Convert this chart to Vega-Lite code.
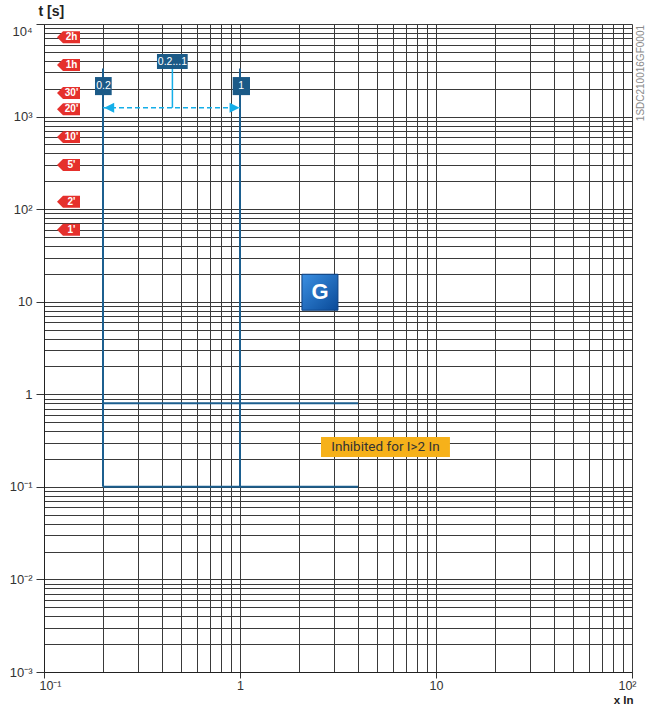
{
  "$schema": "https://vega.github.io/schema/vega-lite/v6.json",
  "width": 588,
  "height": 648,
  "autosize": {"type": "none"},
  "padding": {"left": 44, "top": 24, "right": 15, "bottom": 34},
  "background": "white",
  "config": {"view": {"stroke": null}, "font": "Liberation Sans"},
  "datasets": {
    "curve": [
      {"x": 0.2, "y": 3300, "x2": 0.2, "y2": 0.1},
      {"x": 1, "y": 3300, "x2": 1, "y2": 0.1},
      {"x": 0.2, "y": 0.1, "x2": 4, "y2": 0.1},
      {"x": 0.2, "y": 0.8, "x2": 4, "y2": 0.8}
    ],
    "connector": [{"x": 0.452, "y": 3500, "x2": 0.452, "y2": 1245}],
    "dashed": [{"x": 0.2, "y": 1245, "x2": 1, "y2": 1245}],
    "arrows": [
      {"x": 0.215, "y": 1245, "dir": "left"},
      {"x": 0.938, "y": 1245, "dir": "right"}
    ],
    "boxes": [
      {"x": 0.182, "x2": 0.2215, "y": 2673, "y2": 1705},
      {"x": 0.918, "x2": 1.125, "y": 2673, "y2": 1705},
      {"x": 0.377, "x2": 0.541, "y": 4742, "y2": 3266}
    ],
    "boxlabels": [
      {"x": 0.201, "y": 2136, "label": "0.2"},
      {"x": 1.015, "y": 2136, "label": "1"},
      {"x": 0.452, "y": 3933, "label": "0.2...1"}
    ],
    "gbox": [{"x": 2.07, "x2": 3.16, "y": 19.8, "y2": 8.09}],
    "glabel": [{"x": 2.56, "y": 12.7, "label": "G"}],
    "obox": [{"x": 2.59, "x2": 11.78, "y": 0.345, "y2": 0.21}],
    "olabel": [{"x": 5.52, "y": 0.269, "label": "Inhibited for I>2 In"}],
    "tags": [
      {"x": 0.1334, "y": 7200, "label": "2h"},
      {"x": 0.1334, "y": 3600, "label": "1h"},
      {"x": 0.1334, "y": 1800, "label": "30'"},
      {"x": 0.1334, "y": 1200, "label": "20'"},
      {"x": 0.1334, "y": 600, "label": "10'"},
      {"x": 0.1334, "y": 300, "label": "5'"},
      {"x": 0.1334, "y": 120, "label": "2'"},
      {"x": 0.1334, "y": 60, "label": "1'"}
    ],
    "code": [{"x": 100, "y": 2950, "label": "1SDC210016GF0001"}]
  },
  "encoding": {
    "x": {
      "field": "x",
      "type": "quantitative",
      "scale": {"type": "log", "domain": [0.1, 100], "nice": false},
      "axis": {
        "values": [0.1, 0.2, 0.3, 0.4, 0.5, 0.6, 0.7, 0.8, 0.9, 1, 2, 3, 4, 5, 6, 7, 8, 9, 10, 20, 30, 40, 50, 60, 70, 80, 90, 100],
        "title": "x In",
        "titleFontWeight": "bold",
        "titleFontSize": 11.5,
        "titleColor": "#222",
        "titleAlign": "right",
        "titleAnchor": null,
        "titleX": 589,
        "titleY": 31,
        "titleBaseline": "alphabetic",
        "labelExpr": "datum.value == 0.1 ? '10⁻¹' : datum.value == 1 ? '1' : datum.value == 10 ? '10' : datum.value == 100 ? '10²' : ''",
        "labelFontSize": 12.5,
        "labelColor": "#333",
        "labelOverlap": false,
        "labelFlush": false,
        "labelBound": false,
        "labelPadding": 1,
        "labelOffset": {"condition": [{"test": "datum.value == 0.1", "value": 6}, {"test": "datum.value == 100", "value": -5}], "value": 0},
        "tickSize": 6,
        "tickColor": "#333",
        "tickOpacity": {"condition": {"test": "abs(log(datum.value)/LN10 - round(log(datum.value)/LN10)) < 1e-9", "value": 1}, "value": 0},
        "grid": true,
        "gridColor": "#3a3a3a",
        "gridWidth": 1,
        "gridOpacity": 1,
        "domainColor": "#222",
        "domainWidth": 1
      }
    },
    "y": {
      "field": "y",
      "type": "quantitative",
      "scale": {"type": "log", "domain": [0.001, 10000], "nice": false},
      "axis": {
        "values": [0.001, 0.002, 0.003, 0.004, 0.005, 0.006, 0.007, 0.008, 0.009, 0.01, 0.02, 0.03, 0.04, 0.05, 0.06, 0.07, 0.08, 0.09, 0.1, 0.2, 0.3, 0.4, 0.5, 0.6, 0.7, 0.8, 0.9, 1, 2, 3, 4, 5, 6, 7, 8, 9, 10, 20, 30, 40, 50, 60, 70, 80, 90, 100, 200, 300, 400, 500, 600, 700, 800, 900, 1000, 2000, 3000, 4000, 5000, 6000, 7000, 8000, 9000, 10000],
        "title": "t [s]",
        "titleAngle": 0,
        "titleFontWeight": "bold",
        "titleFontSize": 14,
        "titleColor": "#222",
        "titleAlign": "left",
        "titleAnchor": null,
        "titleX": -6,
        "titleY": -9,
        "titleBaseline": "alphabetic",
        "labelExpr": "datum.value == 10000 ? '10⁴' : datum.value == 1000 ? '10³' : datum.value == 100 ? '10²' : datum.value == 10 ? '10' : datum.value == 1 ? '1' : datum.value == 0.1 ? '10⁻¹' : datum.value == 0.01 ? '10⁻²' : datum.value == 0.001 ? '10⁻³' : ''",
        "labelFontSize": 13,
        "labelColor": "#333",
        "labelOverlap": false,
        "labelFlush": false,
        "labelBound": false,
        "labelPadding": 4,
        "labelOffset": {"condition": {"test": "datum.value == 10000", "value": 7}, "value": 0},
        "tickSize": 8,
        "tickColor": "#333",
        "tickOpacity": {"condition": {"test": "abs(log(datum.value)/LN10 - round(log(datum.value)/LN10)) < 1e-9", "value": 1}, "value": 0},
        "grid": true,
        "gridColor": "#3a3a3a",
        "gridWidth": 1,
        "gridOpacity": 1,
        "domainColor": "#222",
        "domainWidth": 1
      }
    }
  },
  "layer": [
    {
      "data": {"name": "curve"},
      "mark": {"type": "rule", "color": "#1c5f8f", "strokeWidth": 2},
      "encoding": {"x2": {"field": "x2"}, "y2": {"field": "y2"}}
    },
    {
      "data": {"name": "connector"},
      "mark": {"type": "rule", "color": "#14aee8", "strokeWidth": 1.5},
      "encoding": {"x2": {"field": "x2"}, "y2": {"field": "y2"}}
    },
    {
      "data": {"name": "dashed"},
      "mark": {"type": "rule", "color": "#14aee8", "strokeWidth": 1.5, "strokeDash": [5, 3]},
      "encoding": {"x2": {"field": "x2"}, "y2": {"field": "y2"}}
    },
    {
      "data": {"name": "arrows"},
      "mark": {"type": "point", "filled": true, "color": "#14aee8", "opacity": 1, "size": 100},
      "encoding": {
        "shape": {"field": "dir", "type": "nominal", "scale": {"domain": ["left", "right"], "range": ["M-1,0L1,-1L1,1Z", "M1,0L-1,-1L-1,1Z"]}, "legend": null}
      }
    },
    {
      "data": {"name": "boxes"},
      "mark": {"type": "rect", "color": "#1b5a87"},
      "encoding": {"x2": {"field": "x2"}, "y2": {"field": "y2"}}
    },
    {
      "data": {"name": "boxlabels"},
      "mark": {"type": "text", "color": "white", "fontSize": 10.5, "align": "center", "baseline": "middle"},
      "encoding": {"text": {"field": "label"}}
    },
    {
      "data": {"name": "gbox"},
      "mark": {
        "type": "rect",
        "stroke": "#0b3f80",
        "strokeWidth": 1,
        "color": {"gradient": "linear", "x1": 0, "y1": 0, "x2": 1, "y2": 1, "stops": [{"offset": 0, "color": "#3a8fe2"}, {"offset": 1, "color": "#0a4a98"}]}
      },
      "encoding": {"x2": {"field": "x2"}, "y2": {"field": "y2"}}
    },
    {
      "data": {"name": "glabel"},
      "mark": {"type": "text", "color": "white", "fontSize": 22, "fontWeight": "bold", "align": "center", "baseline": "middle"},
      "encoding": {"text": {"field": "label"}}
    },
    {
      "data": {"name": "obox"},
      "mark": {"type": "rect", "color": "#f6b11a"},
      "encoding": {"x2": {"field": "x2"}, "y2": {"field": "y2"}}
    },
    {
      "data": {"name": "olabel"},
      "mark": {"type": "text", "color": "#333", "fontSize": 13.5, "font": "Roboto", "align": "center", "baseline": "middle"},
      "encoding": {"text": {"field": "label"}}
    },
    {
      "data": {"name": "tags"},
      "mark": {"type": "point", "filled": true, "color": "#e5302c", "opacity": 1, "size": 529, "shape": "M-1,0L-0.48,-0.52L1,-0.52L1,0.52L-0.48,0.52Z"}
    },
    {
      "data": {"name": "tags"},
      "mark": {"type": "text", "color": "white", "fontSize": 10, "fontWeight": "bold", "align": "center", "baseline": "middle", "dx": 3},
      "encoding": {"text": {"field": "label"}}
    },
    {
      "data": {"name": "code"},
      "mark": {"type": "text", "color": "#8a8a8a", "fontSize": 10, "align": "center", "baseline": "middle", "angle": 270, "dy": 9, "clip": false},
      "encoding": {"text": {"field": "label"}}
    }
  ]
}
